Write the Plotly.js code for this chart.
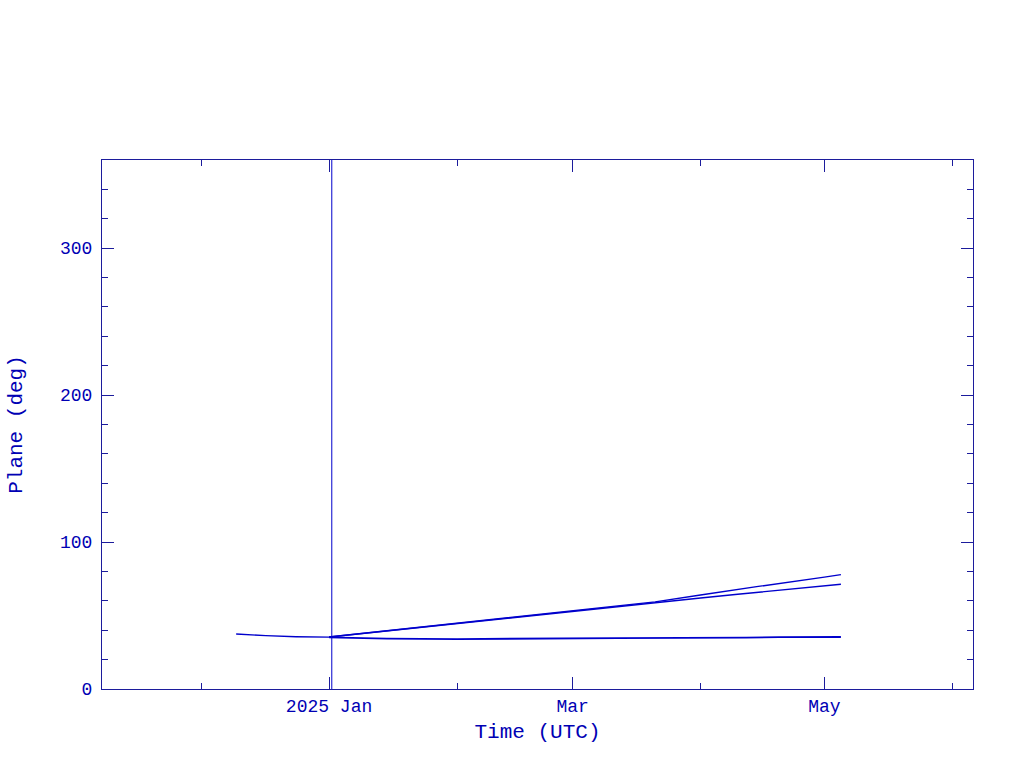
<!DOCTYPE html>
<html>
<head>
<meta charset="utf-8">
<script src="https://cdn.plot.ly/plotly-3.0.1.min.js"></script>
<style>html,body{margin:0;padding:0;background:#fff;}#chart{width:1024px;height:768px;}</style>
</head>
<body>
<div id="chart"></div>
<script>
// Single object before split
var preDates = ['2024-12-09T12:00','2024-12-12T16:00','2024-12-16T16:00','2024-12-24','2024-12-30T08:00','2025-01-01'];
var preVals  = [37.4, 36.8, 36.3, 35.6, 35.2, 35.3];

// Rising planes after split
var upperDates = ['2025-01-01','2025-01-15','2025-02-01','2025-02-15','2025-03-01','2025-03-13','2025-03-21','2025-04-01','2025-04-10','2025-04-15','2025-05-01','2025-05-05'];
var upperVals  = [35.4, 39.6, 44.6, 48.8, 53.0, 56.7, 59.3, 64.0, 67.9, 69.8, 76.1, 77.8];
var lowerDates = ['2025-01-01','2025-01-15','2025-02-01','2025-02-15','2025-03-01','2025-03-13','2025-03-21','2025-04-01','2025-04-10','2025-04-15','2025-05-01','2025-05-05'];
var lowerVals  = [35.4, 39.6, 44.6, 48.7, 52.9, 56.6, 59.1, 61.9, 64.5, 65.9, 70.2, 71.3];

// Nearly flat plane
var flatDates = ['2025-01-01','2025-01-08','2025-01-15','2025-02-01','2025-03-04','2025-03-12','2025-04-12','2025-04-20','2025-05-05'];
var flatVals  = [35.2, 34.8, 34.3, 34.0, 34.1, 34.6, 34.9, 35.3, 35.4];

// Vertical marker line
var markerDates = ['2025-01-01T16:00','2025-01-01T16:00'];
var markerVals  = [0, 360];

// Axis ticks
var xTickVals = ['2025-01-01','2025-03-01','2025-05-01'];
var xTickText = ['2025 Jan','Mar','May'];
var xMinorVals = ['2024-12-01','2025-02-01','2025-04-01','2025-06-01'];

var lineColor = '#0000cc';
var axisColor = '#1c1c9c';
var textColor = '#0000b4';
var fontFam = '"Liberation Mono", "DejaVu Sans Mono", monospace';

function tr(x, y, w) {
  return {x: x, y: y, type: 'scatter', mode: 'lines', line: {color: lineColor, width: w || 1.4}, hoverinfo: 'skip'};
}

var data = [
  tr(preDates, preVals),
  tr(upperDates, upperVals),
  tr(lowerDates, lowerVals),
  tr(flatDates, flatVals, 1.8),
  tr(markerDates, markerVals, 1)
];

var layout = {
  width: 1024, height: 768,
  margin: {l: 102, r: 51, t: 160, b: 79, pad: 0},
  paper_bgcolor: '#ffffff', plot_bgcolor: '#ffffff',
  showlegend: false,
  font: {family: fontFam, color: textColor, size: 18},
  xaxis: {
    type: 'date',
    range: ['2024-11-07', '2025-06-06'],
    tickmode: 'array', tickvals: xTickVals, ticktext: xTickText,
    ticks: 'inside', ticklen: 12, tickwidth: 1, tickcolor: axisColor,
    minor: {tickmode: 'array', tickvals: xMinorVals, ticks: 'inside', ticklen: 6, tickwidth: 1, tickcolor: axisColor, showgrid: false},
    showline: true, linecolor: axisColor, linewidth: 1, mirror: 'allticks',
    showgrid: false, zeroline: false,
    tickfont: {family: fontFam, size: 18, color: textColor},
    title: {text: 'Time (UTC)', font: {family: fontFam, size: 21, color: textColor}, standoff: 7}
  },
  yaxis: {
    range: [0, 360],
    tickmode: 'linear', tick0: 0, dtick: 100,
    ticks: 'inside', ticklen: 12, tickwidth: 1, tickcolor: axisColor,
    minor: {dtick: 20, ticks: 'inside', ticklen: 6, tickwidth: 1, tickcolor: axisColor, showgrid: false},
    showline: true, linecolor: axisColor, linewidth: 1, mirror: 'allticks',
    showgrid: false, zeroline: false,
    ticklabelstandoff: 5,
    tickfont: {family: fontFam, size: 18, color: textColor},
    title: {text: 'Plane (deg)', font: {family: fontFam, size: 21, color: textColor}, standoff: 31}
  }
};

Plotly.newPlot('chart', data, layout, {staticPlot: true, displayModeBar: false});
</script>
</body>
</html>
